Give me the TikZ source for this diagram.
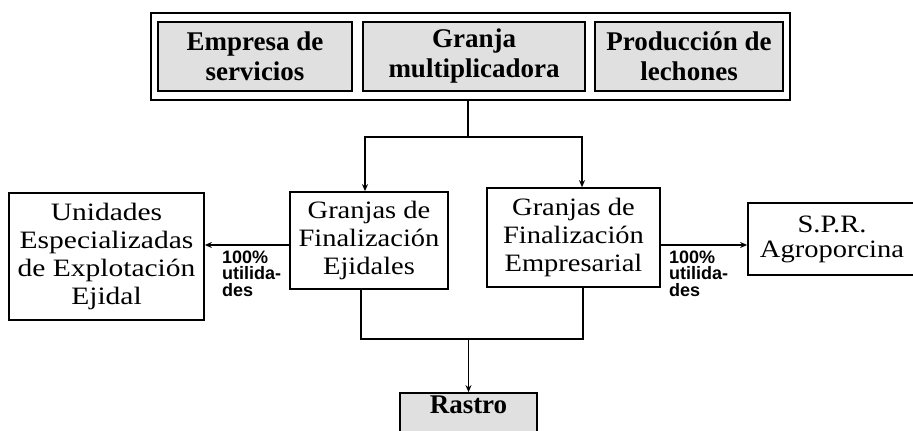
\documentclass[tikz,border=0pt]{standalone}
\usepackage{fontspec}
\setmainfont{Liberation Serif}
\newfontfamily\midfont[FakeStretch=1.14]{Liberation Serif}
\newfontfamily\widefont[FakeStretch=1.18]{Liberation Serif}
\newfontfamily\labfont{Liberation Sans}
\usetikzlibrary{arrows.meta}
\begin{document}
\begin{tikzpicture}[x=1pt,y=-1pt,
  boxed/.style={draw, line width=1.7pt, inner sep=0pt, align=center},
  shaded/.style={boxed, fill=black!12},
  toptext/.style={font=\bfseries\fontsize{27}{30}\selectfont},
  midtext/.style={font=\midfont\fontsize{25}{28}\selectfont},
  lefttext/.style={font=\widefont\fontsize{25}{28}\selectfont},
  sprtext/.style={font=\midfont\fontsize{25}{25}\selectfont},
  conn/.style={line width=1.6pt},
  arr/.style={conn, -{Stealth[length=7pt,width=6pt]}},
  lab/.style={font=\labfont\bfseries\fontsize{18}{16.5}\selectfont, align=left, inner sep=0pt, anchor=north west}
]
\useasboundingbox (0,0) rectangle (913,431);
% top group
\node[boxed, minimum width=639pt, minimum height=87pt] (top) at (470.5,56.5) {};
\node[shaded, toptext, minimum width=194pt, minimum height=69pt] (serv) at (255,56.5) {Empresa de\\servicios};
\node[shaded, toptext, minimum width=222pt, minimum height=69pt] (mult) at (474,56.5) {Granja\\multiplicadora};
\node[shaded, toptext, minimum width=188pt, minimum height=69pt] (lech) at (689,56.5) {Producción de\\lechones};
% middle
\node[boxed, midtext, minimum width=158pt, minimum height=97pt] (ejid) at (369,240.5) {Granjas de\\Finalización\\Ejidales};
\node[boxed, midtext, minimum width=173pt, minimum height=99pt] (empr) at (573.5,237.5) {Granjas de\\Finalización\\Empresarial};
\node[boxed, lefttext, minimum width=195pt, minimum height=127pt] (unid) at (106.5,256.5) {Unidades\\Especializadas\\de Explotación\\Ejidal};
\node[boxed, sprtext, minimum width=168pt, minimum height=72pt] (spr) at (832,239) {S.P.R.\\Agroporcina};
% bottom
\node[shaded, font=\bfseries\fontsize{27}{27}\selectfont, minimum width=137pt, minimum height=41pt, text height=17pt, text depth=18pt] (rastro) at (468.5,413.5) {Rastro};
% labels
\node[lab] (labl) at (222,250.5) {100\%\\utilida-\\des};
\node[lab] (labr) at (669,250.5) {100\%\\utilida-\\des};
% connectors
\draw[conn] ([xshift=-2.5pt]top.south) -- ++(0,36) coordinate (split);
\draw[arr] (split) -| ([xshift=-4pt]ejid.north);
\draw[arr] (split) -| ([xshift=8.5pt]empr.north);
\draw[arr] ([yshift=-4.5pt]ejid.west) -- ([yshift=-4.5pt]ejid.west -| unid.east);
\draw[arr] ([yshift=-7.5pt]empr.east) -- ([yshift=-7.5pt]empr.east -| spr.west);
\coordinate (join) at (468.5,339);
\draw[conn] ([xshift=-8pt]ejid.south) |- (join) -| ([xshift=9.5pt]empr.south);
\draw[arr] (join) -- (join |- rastro.north);
\end{tikzpicture}
\end{document}
